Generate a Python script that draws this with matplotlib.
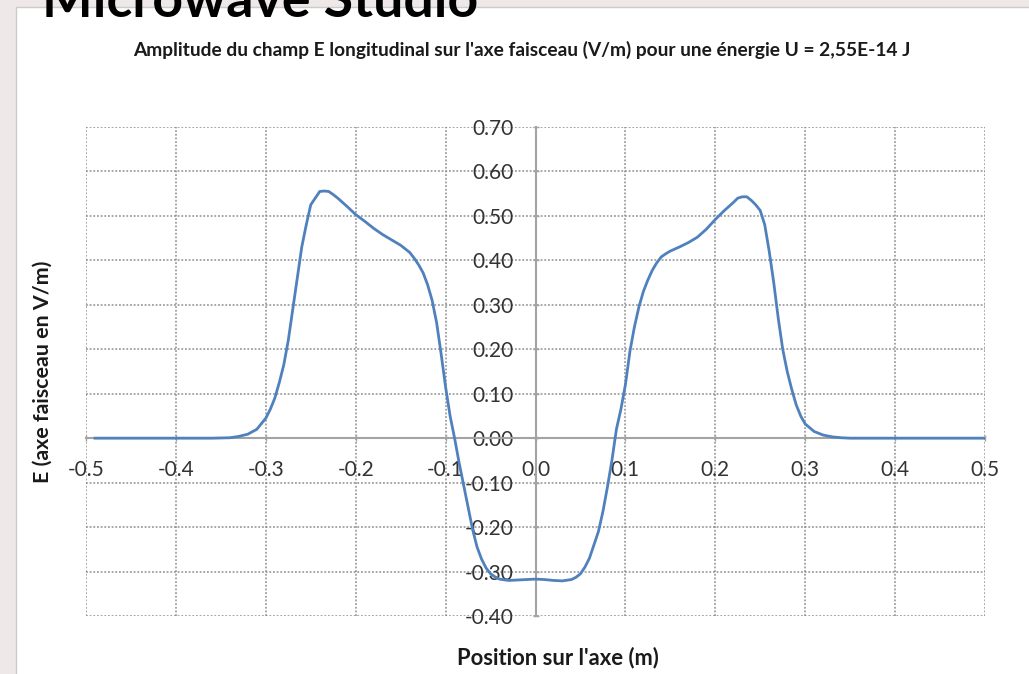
import matplotlib
matplotlib.use("Agg")
import matplotlib.pyplot as plt
from matplotlib.patches import Rectangle
import numpy as np

# ---------------- data ----------------
position_m = [
    -0.49, -0.45, -0.40, -0.36, -0.34, -0.33, -0.32, -0.31, -0.30, -0.295,
    -0.29, -0.285, -0.28, -0.275, -0.27, -0.265, -0.26, -0.255, -0.25, -0.245,
    -0.24, -0.235, -0.23, -0.225, -0.22, -0.21, -0.20, -0.19, -0.18, -0.17,
    -0.16, -0.15, -0.14, -0.135, -0.13, -0.125, -0.12, -0.115, -0.11, -0.105,
    -0.10, -0.095, -0.09, -0.085, -0.08, -0.075, -0.07, -0.065, -0.06, -0.055,
    -0.05, -0.045, -0.04, -0.03, -0.02, -0.01, 0.0, 0.01, 0.02, 0.03,
    0.04, 0.045, 0.05, 0.055, 0.06, 0.065, 0.07, 0.075, 0.08, 0.085,
    0.09, 0.095, 0.10, 0.105, 0.11, 0.115, 0.12, 0.125, 0.13, 0.135,
    0.14, 0.145, 0.15, 0.16, 0.17, 0.18, 0.19, 0.20, 0.21, 0.22,
    0.225, 0.23, 0.235, 0.24, 0.245, 0.25, 0.255, 0.26, 0.265, 0.27,
    0.275, 0.28, 0.285, 0.29, 0.295, 0.30, 0.31, 0.32, 0.33, 0.34,
    0.35, 0.40, 0.45, 0.50,
]
e_field = [
    0.0, 0.0, 0.0, 0.0, 0.001, 0.004, 0.009, 0.020, 0.045, 0.065,
    0.09, 0.125, 0.165, 0.22, 0.29, 0.36, 0.43, 0.48, 0.525, 0.54,
    0.555, 0.556, 0.555, 0.548, 0.540, 0.522, 0.503, 0.488, 0.472, 0.458,
    0.446, 0.434, 0.418, 0.405, 0.39, 0.372, 0.345, 0.31, 0.26, 0.19,
    0.115, 0.05, 0.0, -0.055, -0.105, -0.155, -0.205, -0.245, -0.272, -0.292,
    -0.305, -0.312, -0.317, -0.320, -0.319, -0.318, -0.317, -0.318, -0.320, -0.321,
    -0.318, -0.313, -0.305, -0.29, -0.27, -0.24, -0.21, -0.165, -0.11, -0.05,
    0.02, 0.065, 0.12, 0.195, 0.25, 0.295, 0.33, 0.356, 0.378, 0.395,
    0.408, 0.415, 0.421, 0.43, 0.44, 0.452, 0.47, 0.492, 0.512, 0.530,
    0.540, 0.543, 0.543, 0.535, 0.525, 0.512, 0.48, 0.42, 0.35, 0.27,
    0.20, 0.15, 0.11, 0.075, 0.05, 0.032, 0.015, 0.007, 0.003, 0.001,
    0.0, 0.0, 0.0, 0.0,
]
x_ticks = [-0.5, -0.4, -0.3, -0.2, -0.1, 0.0, 0.1, 0.2, 0.3, 0.4, 0.5]
y_ticks = [-0.40, -0.30, -0.20, -0.10, 0.00, 0.10, 0.20, 0.30, 0.40, 0.50, 0.60, 0.70]
x_tick_labels = ["%.1f" % v for v in x_ticks]
y_tick_labels = ["%.2f" % v for v in y_ticks]

slide_title = "Microwave Studio"
chart_title = "Amplitude du champ E longitudinal sur l'axe faisceau (V/m) pour une énergie U = 2,55E-14 J"
x_label = "Position sur l'axe (m)"
y_label = "E (axe faisceau en V/m)"

# ---------------- figure ----------------
W, H = 1029, 674
plt.rcParams['font.family'] = ['Lato', 'DejaVu Sans']
fig = plt.figure(figsize=(W / 100, H / 100), dpi=100, facecolor='#eee8e8')

# white chart area (background axes)
bg = fig.add_axes([0, 0, 1, 1], zorder=-10)
bg.set_xlim(0, W)
bg.set_ylim(H, 0)
bg.axis('off')
bg.add_patch(Rectangle((16, 7), W, H, facecolor='white',
                       edgecolor='#cdcaca', linewidth=1.0))

ax = fig.add_axes([86 / W, 1 - 616 / H, (985 - 86) / W, (616 - 127) / H], zorder=1)
ax.set_facecolor('none')

ax.plot(position_m, e_field, color='#4f81bd', linewidth=2.0, zorder=5,
        solid_joinstyle='round')

ax.set_xlim(-0.5, 0.5)
ax.set_ylim(-0.4, 0.7)
ax.set_xticks(x_ticks)
ax.set_xticklabels(x_tick_labels)
ax.set_yticks(y_ticks)
ax.set_yticklabels(y_tick_labels)

ax.grid(True, linestyle=(0, (1.2, 1.2)), color='#8e8e8e', linewidth=1.1)
for gl in ax.get_xgridlines() + ax.get_ygridlines():
    gl.set_clip_on(False)

for s in ['top', 'right']:
    ax.spines[s].set_visible(False)
ax.spines['left'].set_position(('data', 0))
ax.spines['bottom'].set_position(('data', 0))
for s in ['left', 'bottom']:
    ax.spines[s].set_color('#a3a3a3')
    ax.spines[s].set_linewidth(1.5)
    ax.spines[s].set_zorder(3)

ax.tick_params(axis='both', direction='inout', length=5, width=1,
               color='#a3a3a3', labelcolor='#333333', labelsize=15)
ax.tick_params(axis='y', pad=13)
ax.tick_params(axis='x', pad=13)

# texts
t_slide = fig.text(42 / W, 1 - 17 / H, slide_title, fontsize=40, fontweight='bold',
                   color='black', ha='left', va='baseline', zorder=10)
t_title = fig.text(522 / W, 1 - 50 / H, chart_title, fontsize=10, fontweight='bold',
                   color='#1a1a1a', ha='center', va='center')
t_xl = fig.text(558 / W, 1 - 658 / H, x_label, fontsize=12, fontweight='bold',
                color='#1a1a1a', ha='center', va='center')
t_yl = fig.text(43 / W, 1 - 372 / H, y_label, fontsize=12, fontweight='bold',
                color='#1a1a1a', ha='center', va='center', rotation=90)

fig.canvas.draw()
r = fig.canvas.get_renderer()


def fit(t, target, use_height=False):
    bb = t.get_window_extent(renderer=r)
    cur = bb.height if use_height else bb.width
    t.set_fontsize(t.get_fontsize() * target / cur)


fit(t_slide, 435)
fit(t_title, 779)
fit(t_xl, 200)
fit(t_yl, 221, use_height=True)

fig.savefig('out.png', dpi=100, facecolor=fig.get_facecolor())
